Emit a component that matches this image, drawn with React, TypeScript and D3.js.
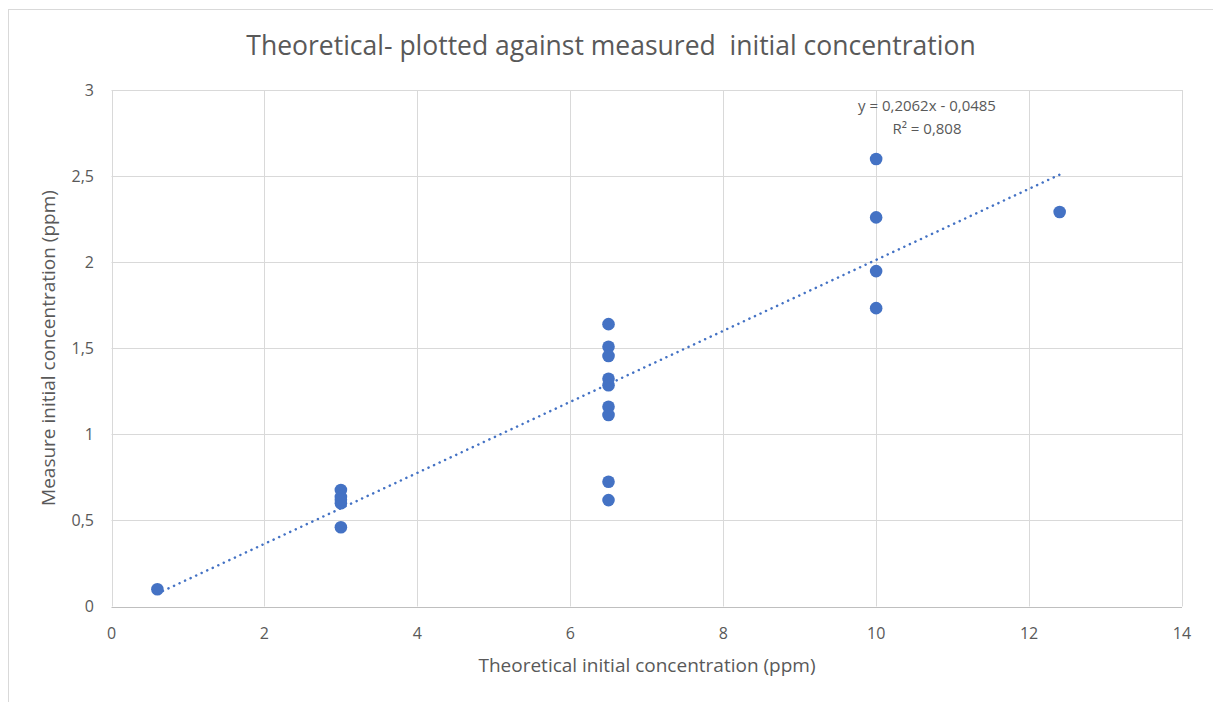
import React from "react";
import * as d3 from "d3";

const xValues = [0.6, 3, 3, 3, 3, 3, 6.5, 6.5, 6.5, 6.5, 6.5, 6.5, 6.5, 6.5, 6.5, 10, 10, 10, 10, 12.4];
const yValues = [0.1, 0.677, 0.636, 0.6, 0.46, 0.62, 1.64, 1.509, 1.455, 1.323, 1.285, 1.16, 1.112, 0.725, 0.618, 2.599, 2.26, 1.948, 1.733, 2.291];
const xTicks = [0, 2, 4, 6, 8, 10, 12, 14];
const yTicks = [0, 0.5, 1, 1.5, 2, 2.5, 3];
const trendSlope = 0.2062;
const trendIntercept = -0.0485;
const trendRange = [0.6, 12.4];
const title = "Theoretical- plotted against measured  initial concentration";
const xTitle = "Theoretical initial concentration (ppm)";
const yTitle = "Measure initial concentration (ppm)";
const eqLines = ["y = 0,2062x - 0,0485", "R² = 0,808"];

const W = 1213;
const H = 702;
const font = "'Open Sans', 'Liberation Sans', sans-serif";
const textColor = "#595959";
const blue = "#4472C4";

export default function App() {
  const x = d3.scaleLinear().domain([0, 14]).range([111.5, 1182]);
  const y = d3.scaleLinear().domain([0, 3]).range([606.5, 90]);
  const fmt = (v: number) => String(v).replace(".", ",");
  const line = d3
    .line<number>()
    .x((d) => x(d))
    .y((d) => y(trendSlope * d + trendIntercept));

  return (
    <svg
      width={W}
      height={H}
      style={{ position: "absolute", left: 0, top: 0, background: "#fff" }}
      fontFamily={font}
    >
      <rect x={0} y={0} width={W} height={H} fill="#fff" />
      <line x1={8.5} x2={8.5} y1={9} y2={H} stroke="#d9d9d9" strokeWidth={1} />
      <line x1={8} x2={W} y1={9.5} y2={9.5} stroke="#d9d9d9" strokeWidth={1} />
      <text x={611} y={55} textAnchor="middle" fontSize={26.5} fill={textColor} style={{ whiteSpace: "pre" }}>
        {title}
      </text>
      {xTicks.map((t) => (
        <line key={"gx" + t} x1={Math.round(x(t)) + 0.5} x2={Math.round(x(t)) + 0.5} y1={y(3)} y2={y(0)} stroke="#d9d9d9" />
      ))}
      {yTicks.map((t) => (
        <line key={"gy" + t} x1={x(0)} x2={x(14)} y1={Math.round(y(t)) + 0.5} y2={Math.round(y(t)) + 0.5} stroke={t === 0 ? "#bfbfbf" : "#d9d9d9"} />
      ))}
      {xTicks.map((t) => (
        <text key={"tx" + t} x={x(t)} y={639} textAnchor="middle" fontSize={16} fill={textColor}>
          {fmt(t)}
        </text>
      ))}
      {yTicks.map((t) => (
        <text key={"ty" + t} x={94} y={y(t) + 5.5} textAnchor="end" fontSize={16} fill={textColor}>
          {fmt(t)}
        </text>
      ))}
      <text x={647} y={672} textAnchor="middle" fontSize={19} fill={textColor}>
        {xTitle}
      </text>
      <text
        transform={`translate(55, ${348}) rotate(-90)`}
        textAnchor="middle"
        fontSize={19}
        fill={textColor}
      >
        {yTitle}
      </text>
      {xValues.map((xv, i) => (
        <circle key={"p" + i} cx={x(xv)} cy={y(yValues[i])} r={6.3} fill={blue} />
      ))}
      <path
        d={line(trendRange) || ""}
        fill="none"
        stroke={blue}
        strokeWidth={2.5}
        strokeLinecap="round"
        strokeDasharray="0.1 6"
      />
      {eqLines.map((l, i) => (
        <text key={"eq" + i} x={927} y={111 + i * 23} textAnchor="middle" fontSize={15} fill={textColor}>
          {l}
        </text>
      ))}
    </svg>
  );
}
